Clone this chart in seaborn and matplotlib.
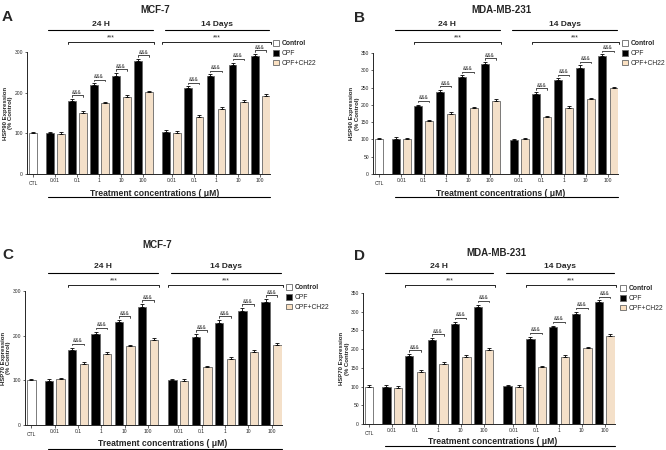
import numpy as np
import pandas as pd
import matplotlib
matplotlib.use("Agg")
import matplotlib.pyplot as plt
import matplotlib.transforms as mtransforms
from matplotlib.patches import Patch
import seaborn as sns

sns.set_style("ticks")
plt.rcParams['font.family'] = ['Liberation Sans', 'DejaVu Sans']

# concentrations (uM), used for both 24 H and 14 Days
concs = ["0.01", "0.1", "1", "10", "100"]
groups = ["Control", "CPF", "CPF+CH22"]
ctl_value = 100

# values: first 5 = 24 H, last 5 = 14 Days
A_cpf = [100, 180, 218, 242, 277, 103, 211, 240, 269, 289]
A_ch22 = [98, 151, 174, 189, 201, 101, 141, 160, 177, 191]
A_sem_cpf = [4, 5, 5, 6, 6, 5, 5, 5, 5, 6]
A_sem_ch22 = [5, 5, 4, 5, 4, 4, 4, 5, 4, 5]

B_cpf = [102, 196, 238, 280, 318, 97, 232, 272, 308, 340]
B_ch22 = [101, 152, 174, 190, 211, 102, 165, 192, 216, 248]
B_sem_cpf = [4, 5, 6, 5, 6, 5, 5, 5, 6, 6]
B_sem_ch22 = [4, 4, 4, 4, 5, 3, 4, 4, 4, 5]

C_cpf = [98, 168, 204, 230, 264, 100, 198, 229, 256, 275]
C_ch22 = [102, 136, 160, 176, 190, 98, 129, 148, 164, 180]
C_sem_cpf = [4, 5, 5, 5, 6, 4, 5, 6, 5, 6]
C_sem_ch22 = [4, 4, 4, 4, 5, 4, 4, 5, 5, 4]

D_cpf = [100, 182, 224, 268, 313, 101, 228, 259, 295, 325]
D_ch22 = [97, 140, 161, 179, 199, 99, 152, 180, 202, 235]
D_sem_cpf = [5, 5, 5, 5, 6, 4, 5, 4, 5, 5]
D_sem_ch22 = [5, 4, 4, 5, 4, 4, 4, 4, 5, 5]
ctl_sem = 3

palette = {"Control": "white", "CPF": "black", "CPF+CH22": "#FBE1C2"}

W, H = 666, 450
fig = plt.figure(figsize=(W / 100, H / 100), dpi=100)

# bar slots: CTL, then 10 bars for 24 H, a wider gap, then 10 bars for 14 Days
pos_ctl = 0.0
pos_24 = 1.5 + np.arange(10)
pos_14 = 12.1 + np.arange(10)
bw = 0.72

panels = [
    dict(letter="A", title="MCF-7", ylab="HSP90 Expression\n(% Control)", cpf=A_cpf, ch22=A_ch22,
         se1=A_sem_cpf, se2=A_sem_ch22, ymax=300, step=100, box=(27, 52, 270, 174),
         letter_xy=(2, 17), title_xy=(155, 10), hdr=(24, 30, 37, 42), star14=0,
         leg=(273, 40), xlab=(155, 193, 197)),
    dict(letter="B", title="MDA-MB-231", ylab="HSP90 Expression\n(% Control)", cpf=B_cpf, ch22=B_ch22,
         se1=B_sem_cpf, se2=B_sem_ch22, ymax=350, step=50, box=(373, 53, 618, 174),
         letter_xy=(354, 18), title_xy=(501, 10), hdr=(24, 30, 37, 42), star14=1,
         leg=(622, 40), xlab=(501, 193, 197)),
    dict(letter="C", title="MCF-7", ylab="HSP70 Expression\n(% Control)", cpf=C_cpf, ch22=C_ch22,
         se1=C_sem_cpf, se2=C_sem_ch22, ymax=300, step=100, box=(25, 291, 282, 425),
         letter_xy=(2, 255), title_xy=(157, 245), hdr=(267, 273, 280, 285), star14=0,
         leg=(286, 284), xlab=(163, 444, 449)),
    dict(letter="D", title="MDA-MB-231", ylab="HSP70 Expression\n(% Control)", cpf=D_cpf, ch22=D_ch22,
         se1=D_sem_cpf, se2=D_sem_ch22, ymax=350, step=50, box=(363, 293, 615, 424),
         letter_xy=(354, 256), title_xy=(496, 253), hdr=(267, 273, 280, 285), star14=1,
         leg=(620, 285), xlab=(493, 441, 446)),
]


def fy(py):
    return 1 - py / H


for p in panels:
    l, t, r, b = p["box"]
    ax = fig.add_axes([l / W, 1 - b / H, (r - l) / W, (b - t) / H])

    # interleave CPF / CPF+CH22 bars; 24 H conc 0..4 then 14 Days conc 0..4
    vals, grp, sems = [ctl_value], ["Control"], [ctl_sem]
    for i in range(10):
        vals += [p["cpf"][i], p["ch22"][i]]
        grp += ["CPF", "CPF+CH22"]
        sems += [p["se1"][i], p["se2"][i]]
    xs = [pos_ctl] + list(pos_24) + list(pos_14)
    df = pd.DataFrame({"pos": xs, "value": vals, "group": grp})

    sns.barplot(data=df, x="pos", y="value", hue="group", hue_order=groups, palette=palette,
                dodge=False, native_scale=True, width=bw, edgecolor="#666666", linewidth=0.6,
                legend=False, ax=ax)
    ax.errorbar(df["pos"], df["value"], yerr=[np.zeros(len(sems)), sems], fmt="none",
                ecolor="black", elinewidth=0.6, capsize=1.5, capthick=0.6)

    ax.set_xlim(-0.55, 21.5)
    ax.set_ylim(0, p["ymax"])
    ax.set_yticks(np.arange(0, p["ymax"] + 1, p["step"]))
    sns.despine(ax=ax)
    for s in ["left", "bottom"]:
        ax.spines[s].set_linewidth(0.7)
    ax.tick_params(axis="both", labelsize=3.6, length=1.8, width=0.5, pad=1)

    centers = [pos_ctl] + [(pos_24[2 * j] + pos_24[2 * j + 1]) / 2 for j in range(5)] \
        + [(pos_14[2 * j] + pos_14[2 * j + 1]) / 2 for j in range(5)]
    ax.set_xticks(centers)
    ax.set_xticklabels(["CTL"] + concs + concs)
    lab0 = ax.get_xticklabels()[0]
    lab0.set_transform(lab0.get_transform() + mtransforms.ScaledTranslation(0, -2 / 72, fig.dpi_scale_trans))
    ax.set_xlabel("")
    ax.set_ylabel(p["ylab"], fontsize=4.3, fontweight="bold", labelpad=0.8, linespacing=1.1)

    # &&& brackets above each CPF / CPF+CH22 pair
    gap = p["ymax"] * 0.03
    tick = p["ymax"] * 0.012
    for k in range(2):
        base = pos_24 if k == 0 else pos_14
        for j in range(1, 5):
            i = k * 5 + j
            yb = p["cpf"][i] + p["se1"][i] + gap
            x1, x2 = base[2 * j], base[2 * j + 1]
            ax.plot([x1, x1, x2, x2], [yb - tick, yb, yb, yb - tick], color="black", lw=0.5, clip_on=False)
            ax.text((x1 + x2) / 2, yb + tick * 0.3, "&&&", fontsize=3.6, ha="center", va="bottom")

    # headers: 24 H / 14 Days lines and *** brackets
    tr = mtransforms.blended_transform_factory(ax.transData, fig.transFigure)
    ty, ly, sy, by = p["hdr"]
    for k, name in enumerate(["24 H", "14 Days"]):
        base = pos_24 if k == 0 else pos_14
        xa, xb = base[0] - 0.1, base[-1] + 0.35
        ax.plot([xa, xb], [fy(ly), fy(ly)], color="black", lw=0.8, transform=tr, clip_on=False)
        ax.text((xa + xb) / 2, fy(ty), name, transform=tr, fontsize=6, fontweight="bold",
                ha="center", va="center")
        s0 = 2 if k == 0 else 2 * p["star14"]
        sa, sb = base[s0] - bw / 2, base[-1] + bw / 2 + 0.1
        ax.plot([sa, sa, sb, sb], [fy(by + 2), fy(by), fy(by), fy(by + 2)], color="black", lw=0.6,
                transform=tr, clip_on=False)
        ax.text((sa + sb) / 2, fy(by - 1), "***", transform=tr, fontsize=4.8, ha="center", va="bottom")

    # x label with underline
    xl_x, xl_y, ul_y = p["xlab"]
    fig.text(xl_x / W, fy(xl_y), "Treatment concentrations ( \u03bcM)", fontsize=6.2, fontweight="bold",
             ha="center", va="center")
    ax.plot([pos_24[0] - 0.1, pos_14[-1] + 0.4], [fy(ul_y), fy(ul_y)], color="black", lw=0.8,
            transform=tr, clip_on=False)

    fig.text(p["title_xy"][0] / W, fy(p["title_xy"][1]), p["title"], fontsize=7, fontweight="bold",
             ha="center", va="center")
    fig.text(p["letter_xy"][0] / W, fy(p["letter_xy"][1]), p["letter"], fontsize=11, fontweight="bold",
             ha="left", va="center")

    handles = [Patch(facecolor=palette[g], edgecolor="#666666", linewidth=0.6, label=g) for g in groups]
    leg = fig.legend(handles=handles, loc="upper left", bbox_to_anchor=(p["leg"][0] / W, fy(p["leg"][1])),
                     frameon=False, fontsize=4.9, handlelength=0.9, handleheight=0.9,
                     handletextpad=0.35, labelspacing=0.4, borderpad=0, borderaxespad=0)
    leg.get_texts()[0].set_fontweight("bold")

fig.savefig("out.png", dpi=100)
